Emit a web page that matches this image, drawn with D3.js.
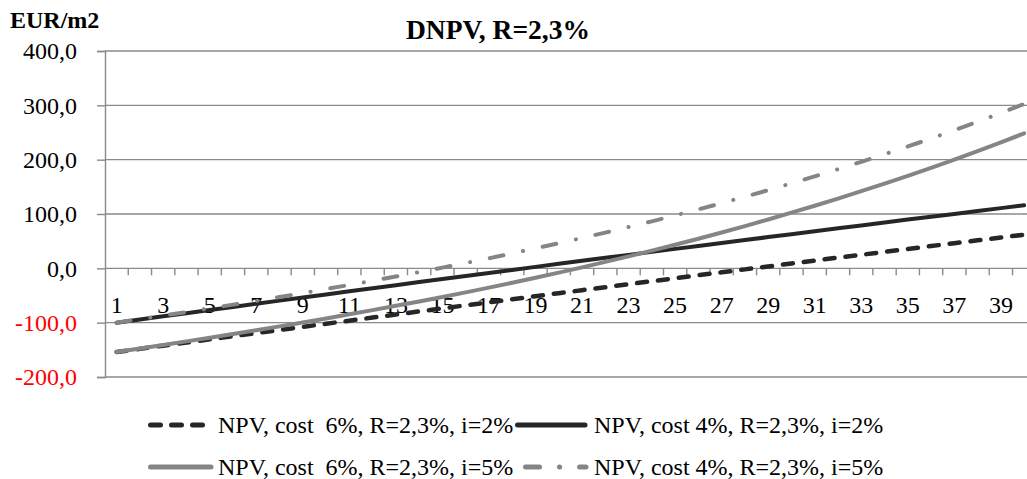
<!DOCTYPE html>
<html>
<head>
<meta charset="utf-8">
<script src="https://cdn.jsdelivr.net/npm/d3@7"></script>
<style>
  html, body { margin: 0; padding: 0; background: #fff; }
  svg { display: block; }
  text { font-family: "Liberation Serif", "Times New Roman", serif; }
</style>
</head>
<body>
<svg id="chart" width="1027" height="479"></svg>
<script>
// ---- data ----
const categories = [1,2,3,4,5,6,7,8,9,10,11,12,13,14,15,16,17,18,19,20,
                    21,22,23,24,25,26,27,28,29,30,31,32,33,34,35,36,37,38,39,40];
const xTickLabels = [1,3,5,7,9,11,13,15,17,19,21,23,25,27,29,31,33,35,37,39];
const yTicks = [-200, -100, 0, 100, 200, 300, 400];

const seriesNames = [
  "NPV, cost  6%, R=2,3%, i=2%",
  "NPV, cost 4%, R=2,3%, i=2%",
  "NPV, cost  6%, R=2,3%, i=5%",
  "NPV, cost 4%, R=2,3%, i=5%"
];
const npvCost6i2 = [-154, -148.2, -142.3, -136.5, -130.7, -125.0, -119.2, -113.4, -107.7, -102.0,
                    -96.3, -90.6, -85.0, -79.3, -73.7, -68.1, -62.5, -56.9, -51.3, -45.7,
                    -40.2, -34.7, -29.2, -23.7, -18.2, -12.7, -7.3, -1.9, 3.5, 8.9,
                    14.3, 19.7, 25.0, 30.3, 35.7, 41.0, 46.2, 51.5, 56.8, 62.0];
const npvCost4i2 = [-100, -94.2, -88.3, -82.5, -76.7, -71.0, -65.2, -59.4, -53.7, -48.0,
                    -42.3, -36.6, -31.0, -25.3, -19.7, -14.1, -8.5, -2.9, 2.7, 8.3,
                    13.8, 19.3, 24.8, 30.3, 35.8, 41.3, 46.7, 52.1, 57.5, 62.9,
                    68.3, 73.7, 79.0, 84.3, 89.7, 95.0, 100.2, 105.5, 110.8, 116.0];
const npvCost6i5 = [-154, -147.6, -141.0, -134.4, -127.7, -120.8, -113.9, -106.8, -99.6, -92.2,
                    -84.6, -76.9, -69.0, -61.0, -52.7, -44.2, -35.5, -26.5, -17.3, -7.9,
                    1.8, 11.8, 22.0, 32.5, 43.4, 54.5, 66.0, 77.8, 89.9, 102.4,
                    115.2, 128.4, 142.0, 155.9, 170.3, 185.0, 200.2, 215.8, 231.9, 248.4];
const npvCost4i5 = [-100, -93.6, -87.0, -80.4, -73.7, -66.8, -59.9, -52.8, -45.6, -38.2,
                    -30.6, -22.9, -15.0, -7.0, 1.3, 9.8, 18.5, 27.5, 36.7, 46.1,
                    55.8, 65.8, 76.0, 86.5, 97.4, 108.5, 120.0, 131.8, 143.9, 156.4,
                    169.2, 182.4, 196.0, 209.9, 224.3, 239.0, 254.2, 269.8, 285.9, 302.4];

const titleText = "DNPV, R=2,3%";
const yUnit = "EUR/m2";

// ---- styles ----
const styles = [
  { color: "#262626", width: 4.5, dash: "10,11",        legendWidth: 5 },
  { color: "#262626", width: 4,   dash: null,           legendWidth: 5 },
  { color: "#858585", width: 4,   dash: null,           legendWidth: 5 },
  { color: "#858585", width: 4,   dash: "14,20,0.1,20", legendWidth: 5 }
];
const seriesValues = [npvCost6i2, npvCost4i2, npvCost6i5, npvCost4i5];
const series = seriesNames.map((name, i) => ({
  name, style: styles[i],
  values: categories.map((c, j) => ({ c, v: seriesValues[i][j] }))
}));

const svg = d3.select("#chart");
const plotLeft = 105, plotRight = 1035.8, plotTop = 51, plotBottom = 377;
const gridColor = "#8a8a8a";

const x = d3.scaleBand().domain(categories).range([plotLeft, plotRight]).paddingInner(0).paddingOuter(0);
const y = d3.scaleLinear().domain([-200, 400]).range([plotBottom, plotTop]);

// gridlines
svg.append("g").selectAll("line").data(yTicks).join("line")
  .attr("x1", plotLeft).attr("x2", plotRight)
  .attr("y1", d => y(d)).attr("y2", d => y(d))
  .attr("stroke", gridColor).attr("stroke-width", 1.4);

// y axis
const yAxis = d3.axisLeft(y).tickValues(yTicks).tickSize(8).tickPadding(20)
  .tickFormat(d => d3.format(".1f")(d).replace(".", ",").replace("\u2212", "-"));
const gy = svg.append("g").attr("transform", `translate(${plotLeft},0)`).call(yAxis);
gy.select(".domain").attr("stroke", gridColor).attr("stroke-width", 1.4);
gy.selectAll(".tick line").attr("stroke", gridColor).attr("stroke-width", 1.4);
gy.selectAll(".tick text")
  .attr("font-family", "Liberation Serif, serif")
  .attr("font-size", 24)
  .attr("fill", d => d < 0 ? "#ff0000" : "#000");

// x axis tick marks at category boundaries (at y = 0)
svg.append("g").selectAll("line").data(categories).join("line")
  .attr("x1", d => x(d) + x.bandwidth()).attr("x2", d => x(d) + x.bandwidth())
  .attr("y1", y(0)).attr("y2", y(0) + 7)
  .attr("stroke", gridColor).attr("stroke-width", 1.4);

// x labels
const xAxis = d3.axisBottom(x).tickValues(xTickLabels).tickSize(0).tickPadding(0);
const gx = svg.append("g").attr("transform", `translate(0,${y(0)})`).call(xAxis);
gx.select(".domain").remove();
gx.selectAll(".tick text")
  .attr("font-family", "Liberation Serif, serif")
  .attr("font-size", 24).attr("fill", "#000")
  .attr("dy", null).attr("y", 45);

// lines (series order as in the source chart)
const line = d3.line().x(d => x(d.c) + x.bandwidth() / 2).y(d => y(d.v));
svg.append("g").selectAll("path").data(series).join("path")
  .attr("d", d => line(d.values))
  .attr("fill", "none")
  .attr("stroke", d => d.style.color)
  .attr("stroke-width", d => d.style.width)
  .attr("stroke-linecap", "round")
  .attr("stroke-linejoin", "round")
  .attr("stroke-dasharray", d => d.style.dash);

// title & unit
svg.append("text").attr("x", 498).attr("y", 39).attr("text-anchor", "middle")
  .attr("font-size", 27.5).attr("font-weight", "bold").attr("fill", "#000").text(titleText);
svg.append("text").attr("x", 10).attr("y", 28)
  .attr("font-size", 24).attr("font-weight", "bold").attr("fill", "#000").text(yUnit);

// legend
const legendPos = [
  { x1: 150.5, x2: 206, tx: 218, ly: 425, ty: 433 },
  { x1: 517.5, x2: 585, tx: 594, ly: 425, ty: 433 },
  { x1: 150.5, x2: 211, tx: 218, ly: 467, ty: 475 },
  { x1: 525.5, x2: 586, tx: 594, ly: 467, ty: 475 }
];
const lg = svg.append("g").selectAll("g").data(series).join("g");
lg.append("line")
  .attr("x1", (d, i) => legendPos[i].x1).attr("x2", (d, i) => legendPos[i].x2)
  .attr("y1", (d, i) => legendPos[i].ly).attr("y2", (d, i) => legendPos[i].ly)
  .attr("stroke", d => d.style.color).attr("stroke-width", d => d.style.legendWidth)
  .attr("stroke-linecap", "round")
  .attr("stroke-dasharray", d => d.style.dash);
lg.append("text")
  .attr("x", (d, i) => legendPos[i].tx).attr("y", (d, i) => legendPos[i].ty)
  .attr("font-size", 24).attr("fill", "#000")
  .attr("xml:space", "preserve").style("white-space", "pre")
  .text(d => d.name);
</script>
</body>
</html>
